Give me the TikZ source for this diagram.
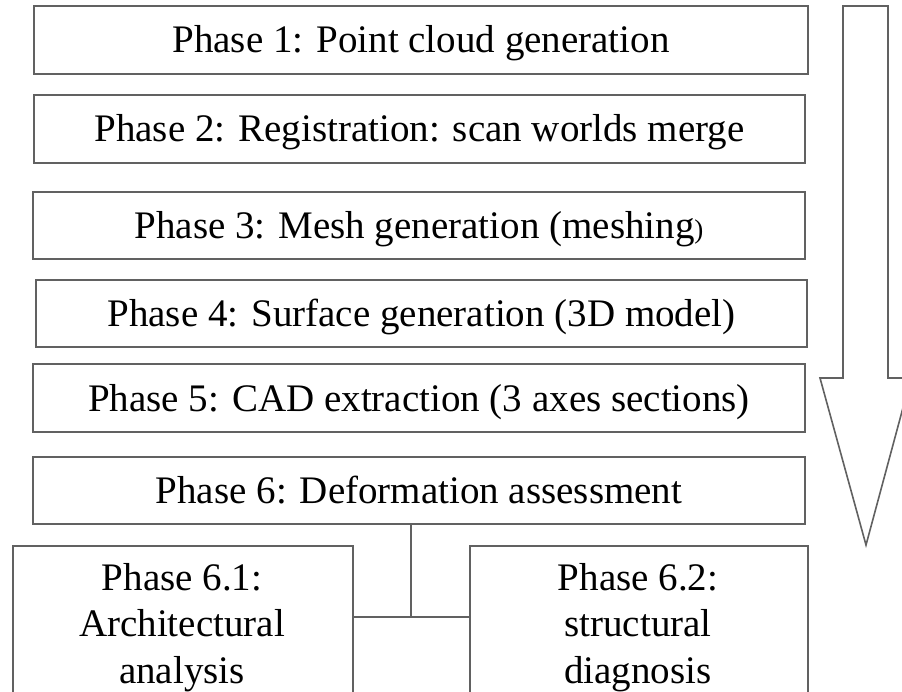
\documentclass[tikz,border=0pt]{standalone}
\usepackage{fontspec}
\setmainfont{Liberation Serif}
\begin{document}
\begin{tikzpicture}[x=1pt,y=-1pt,
  ln/.style={draw=black!62, line width=1.6pt},
  phasebox/.style={ln, rectangle, inner sep=0pt, anchor=center,
    font=\fontsize{39}{46.5}\selectfont, text height=26pt, text depth=0pt},
  subbox/.style={ln, rectangle, inner sep=0pt, anchor=north west},
  subtext/.style={font=\fontsize{39}{46.5}\selectfont, align=center, inner sep=0pt, anchor=base}]
\clip (0,0) rectangle (902,692);
\fill[white] (0,0) rectangle (902,692);
% phase boxes
\node[phasebox, minimum width=774pt, minimum height=68pt] (b1) at (421,40) {Phase 1: Point cloud generation};
\node[phasebox, minimum width=771pt, minimum height=68pt] (b2) at (419.5,129) {Phase 2: Registration: scan worlds merge};
\node[phasebox, minimum width=772pt, minimum height=67pt] (b3) at (419,225.5) {Phase 3: Mesh generation (meshing{\fontsize{27}{27}\selectfont )}};
\node[phasebox, minimum width=771pt, minimum height=67pt] (b4) at (421.5,313.5) {Phase 4: Surface generation (3D model)};
\node[phasebox, minimum width=772pt, minimum height=68pt] (b5) at (419,398) {Phase 5: CAD extraction (3 axes sections)};
\node[phasebox, minimum width=772pt, minimum height=67pt] (b6) at (419,490.5) {Phase 6: Deformation assessment};
% sub-phase boxes
\node[subbox, minimum width=340pt, minimum height=165pt] (b61) at (12,545) {};
\node[subbox, minimum width=338pt, minimum height=165pt] (b62) at (469,545) {};
\node[subtext] (t61) at (182,683) {Phase 6.1:\\Architectural\\analysis};
\node[subtext] (t62) at (638,683) {Phase 6.2:\\structural\\diagnosis};
% connectors
\coordinate (j) at (411,617);
\draw[ln] (b6.south -| j) -- (j);
\draw[ln] (b61.east |- j) -- (b62.west |- j);
% big down arrow
\coordinate (a1) at (843,6);
\coordinate (a2) at (888,6);
\coordinate (a3) at (888,378);
\coordinate (a4) at (911,378);
\coordinate (tip) at (866,545);
\coordinate (a6) at (820,378);
\coordinate (a7) at (843,378);
\draw[ln, line join=miter] (a1) -- (a2) -- (a3) -- (a4) -- (tip) -- (a6) -- (a7) -- cycle;
\end{tikzpicture}
\end{document}
